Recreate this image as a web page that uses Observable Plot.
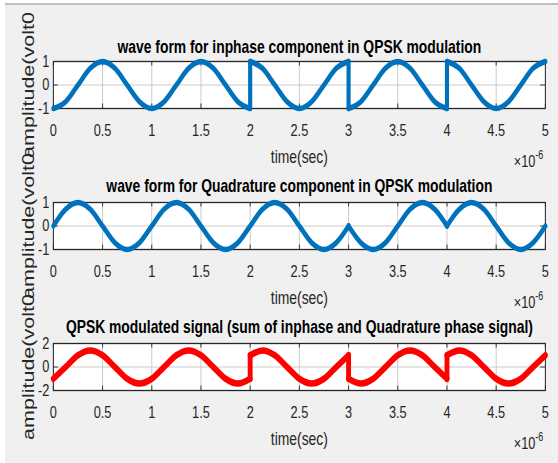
<!DOCTYPE html>
<html><head><meta charset="utf-8">
<script src="https://cdn.jsdelivr.net/npm/d3@7"></script>
<script src="https://cdn.jsdelivr.net/npm/@observablehq/plot@0.6"></script>
<style>
html,body{margin:0;padding:0;background:#fff;}
#fig{position:relative;width:558px;height:463px;overflow:hidden;background:#fff;}
#bg{position:absolute;left:5px;top:3px;right:0;bottom:0;background:#f0f0f0;border-top:2px solid #c0c0c0;}
.sub{position:absolute;left:0;width:558px;}
.sub svg{overflow:visible;display:block;}
</style></head><body>
<div id="fig"><div id="bg"></div></div>
<script>
// ---- data ----
const titles = [
  "wave form for inphase component in QPSK modulation",
  "wave form for Quadrature component in QPSK modulation",
  "QPSK modulated signal (sum of inphase and Quadrature phase signal)"
];
const xLabel = "time(sec)";
const yLabel = "amplitude(volt0";
const xExponentBase = "\u00d710";
const xExponent = "-6";
const xTicks = [0, 0.5, 1, 1.5, 2, 2.5, 3, 3.5, 4, 4.5, 5];
const xTickLabels = ["0", "0.5", "1", "1.5", "2", "2.5", "3", "3.5", "4", "4.5", "5"];
const yTicksIQ = [-1, 0, 1];
const yTicksMod = [-2, 0, 2];
// symbol start times (in units of 1e-6 s) and sample offsets inside each symbol
const symbolStartUs = [0, 1, 2, 3, 4];
const sampleOffsetUs = [0, 0.125, 0.25, 0.375, 0.5, 0.625, 0.75, 0.875, 1];
// sampled values per symbol
const inphaseValues = [
  [-1, -0.71, 0, 0.71, 1, 0.71, 0, -0.71, -1],
  [-1, -0.71, 0, 0.71, 1, 0.71, 0, -0.71, -1],
  [1, 0.71, 0, -0.71, -1, -0.71, 0, 0.71, 1],
  [-1, -0.71, 0, 0.71, 1, 0.71, 0, -0.71, -1],
  [1, 0.71, 0, -0.71, -1, -0.71, 0, 0.71, 1]
];
const quadratureValues = [
  [0, 0.71, 1, 0.71, 0, -0.71, -1, -0.71, 0],
  [0, 0.71, 1, 0.71, 0, -0.71, -1, -0.71, 0],
  [0, 0.71, 1, 0.71, 0, -0.71, -1, -0.71, 0],
  [0, -0.71, -1, -0.71, 0, 0.71, 1, 0.71, 0],
  [0, 0.71, 1, 0.71, 0, -0.71, -1, -0.71, 0]
];
const modulatedValues = [
  [-1, 0, 1, 1.41, 1, 0, -1, -1.41, -1],
  [-1, 0, 1, 1.41, 1, 0, -1, -1.41, -1],
  [1, 1.41, 1, 0, -1, -1.41, -1, 0, 1],
  [-1, -1.41, -1, 0, 1, 1.41, 1, 0, -1],
  [1, 1.41, 1, 0, -1, -1.41, -1, 0, 1]
];

// ---- layout ----
const sx = 0.75;               // horizontal compression of the whole figure
const natW = 558 / sx;         // natural width of each panel
const mTop = 30, boxH = 47, mBottom = 60, panelH = mTop + boxH + mBottom;
const mLeft = 53 / sx, mRight = (558 - 545) / sx;
const boxW = natW - mLeft - mRight;
const font = "'Liberation Sans', Arial, Helvetica, sans-serif";
const ink = "#262626";

// group symbols into smooth runs (a new run starts whenever the symbol's waveform changes)
function buildRows(values) {
  const rows = [];
  const joins = [];
  let run = 0;
  symbolStartUs.forEach((s, i) => {
    if (i > 0 && values[i].join() !== values[i - 1].join()) {
      run++;
      const prev = values[i - 1];
      joins.push({t: s, v: prev[prev.length - 1], j: run});
      joins.push({t: s, v: values[i][0], j: run});
    }
    sampleOffsetUs.forEach((o, k) => {
      if (i > 0 && k === 0 && values[i].join() === values[i - 1].join()) return;
      rows.push({t: s + o, v: values[i][k], run});
    });
  });
  return {rows, joins};
}

function panel({title, titleDy, values, yDomain, yTicks, color, strokeWidth, top}) {
  const {rows, joins} = buildRows(values);
  const svg = Plot.plot({
    width: natW, height: panelH,
    marginTop: mTop, marginBottom: mBottom, marginLeft: mLeft, marginRight: mRight,
    style: {fontFamily: font, background: "transparent", color: ink, overflow: "visible"},
    x: {domain: [0, 5]},
    y: {domain: yDomain},
    marks: [
      Plot.frame({fill: "white", stroke: null}),
      Plot.gridX({ticks: xTicks, stroke: "#c4c4c4", strokeOpacity: 1}),
      Plot.gridY({ticks: [0], stroke: "#c4c4c4", strokeOpacity: 1}),
      Plot.ruleX(xTicks, {x: d => d, stroke: ink, insetBottom: boxH - 4.5}),
      Plot.ruleX(xTicks, {x: d => d, stroke: ink, insetTop: boxH - 4.5}),
      Plot.ruleY(yTicks, {y: d => d, stroke: ink, insetRight: boxW - 6.5}),
      Plot.ruleY(yTicks, {y: d => d, stroke: ink, insetLeft: boxW - 6.5}),
      Plot.frame({stroke: ink, strokeWidth: 1.3}),
      Plot.axisX({ticks: xTicks, tickFormat: d => xTickLabels[xTicks.indexOf(d)], tickSize: 0, tickPadding: 15, fontSize: 17, label: null, fill: ink}),
      Plot.axisY({ticks: yTicks, tickFormat: d => String(d), tickSize: 0, tickPadding: 5.5, fontSize: 17, label: null, fill: ink}),
      Plot.line(rows, {x: "t", y: "v", z: "run", stroke: color, strokeWidth, curve: "monotone-x", strokeLinejoin: "round", strokeLinecap: "round"}),
      Plot.line(joins, {x: "t", y: "v", z: "j", stroke: color, strokeWidth, strokeLinecap: "round"}),
      Plot.text([title], {frameAnchor: "top", dy: titleDy, text: d => d, fontSize: 18.5, fontWeight: "bold", fill: "#000", lineAnchor: "middle"}),
      Plot.text([xLabel], {frameAnchor: "bottom", dy: 49, text: d => d, fontSize: 18.5, fill: ink, lineAnchor: "middle"}),
      Plot.text([xExponentBase], {frameAnchor: "bottom-right", dx: -13.3, dy: 53, text: d => d, fontSize: 17, fill: ink, textAnchor: "end", lineAnchor: "middle"}),
      Plot.text([xExponent], {frameAnchor: "bottom-right", dx: -2.7, dy: 46.5, text: d => d, fontSize: 12, fill: ink, textAnchor: "end", lineAnchor: "middle"}),
      Plot.text([yLabel], {frameAnchor: "left", dx: -(53 - 28) / sx, text: d => d, fontSize: 21.5, fill: ink, rotate: -90, textAnchor: "middle", lineAnchor: "middle"})
    ]
  });
  svg.setAttribute("viewBox", `0 0 ${natW} ${panelH}`);
  svg.setAttribute("preserveAspectRatio", "none");
  svg.setAttribute("width", 558);
  svg.setAttribute("height", panelH);
  const div = document.createElement("div");
  div.className = "sub";
  div.style.top = top + "px";
  div.appendChild(svg);
  document.getElementById("fig").appendChild(div);
}

panel({title: titles[0], titleDy: -14, values: inphaseValues, yDomain: [-1, 1], yTicks: yTicksIQ, color: "#0072BD", strokeWidth: 5.5, top: 61 - mTop});
panel({title: titles[1], titleDy: -16.5, values: quadratureValues, yDomain: [-1, 1], yTicks: yTicksIQ, color: "#0072BD", strokeWidth: 5.5, top: 202 - mTop});
panel({title: titles[2], titleDy: -16.5, values: modulatedValues, yDomain: [-2, 2], yTicks: yTicksMod, color: "#FF0000", strokeWidth: 6.5, top: 343 - mTop});
</script>
</body></html>
